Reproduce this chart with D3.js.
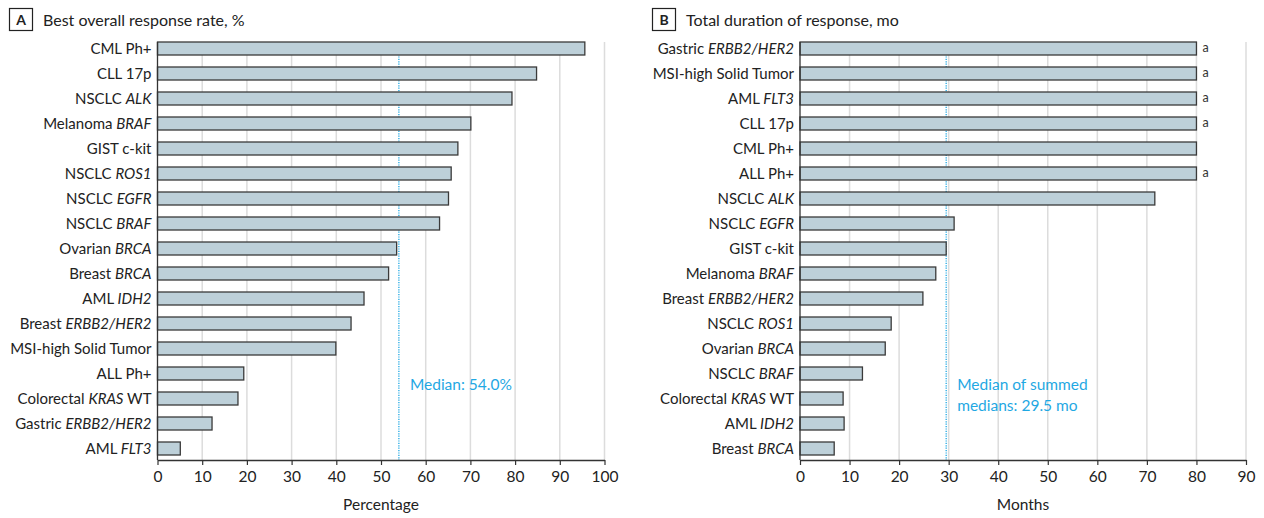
<!DOCTYPE html>
<html>
<head>
<meta charset="utf-8">
<script src="https://cdn.jsdelivr.net/npm/d3@7"></script>
<style>
  body { margin: 0; background: #fff; }
  svg { display: block; font-family: Lato, "Noto Sans", sans-serif; }
</style>
</head>
<body>
<svg id="chart" width="1264" height="518"></svg>
<script>
// gene names in *...* are set in italics
const categoriesA = [
  "CML Ph+", "CLL 17p", "NSCLC *ALK*", "Melanoma *BRAF*", "GIST c-kit",
  "NSCLC *ROS1*", "NSCLC *EGFR*", "NSCLC *BRAF*", "Ovarian *BRCA*", "Breast *BRCA*",
  "AML *IDH2*", "Breast *ERBB2/HER2*", "MSI-high Solid Tumor", "ALL Ph+",
  "Colorectal *KRAS* WT", "Gastric *ERBB2/HER2*", "AML *FLT3*"
];
const responseRate = [95.6, 84.8, 79.3, 70.1, 67.2, 65.7, 65.1, 63.1, 53.5, 51.7, 46.2, 43.3, 39.9, 19.3, 18.0, 12.2, 5.1];
const medianA = 54.0;
const ticksA = [0, 10, 20, 30, 40, 50, 60, 70, 80, 90, 100];

const categoriesB = [
  "Gastric *ERBB2/HER2*", "MSI-high Solid Tumor", "AML *FLT3*", "CLL 17p", "CML Ph+",
  "ALL Ph+", "NSCLC *ALK*", "NSCLC *EGFR*", "GIST c-kit", "Melanoma *BRAF*",
  "Breast *ERBB2/HER2*", "NSCLC *ROS1*", "Ovarian *BRCA*", "NSCLC *BRAF*",
  "Colorectal *KRAS* WT", "AML *IDH2*", "Breast *BRCA*"
];
const durationMonths = [80, 80, 80, 80, 80, 80, 71.6, 31.1, 29.5, 27.4, 24.8, 18.4, 17.2, 12.6, 8.7, 8.9, 6.9];
const footnoteB = ["a", "a", "a", "a", "", "a", "", "", "", "", "", "", "", "", "", "", ""];
const medianB = 29.5;
const ticksB = [0, 10, 20, 30, 40, 50, 60, 70, 80, 90];

const svg = d3.select("#chart");
const blue = "#1fa8e3";

function addLabel(sel, label) {
  // split on *...* into plain and italic pieces
  const parts = label.split("*");
  parts.forEach((p, i) => {
    if (p === "") return;
    sel.append("tspan")
       .attr("font-style", i % 2 === 1 ? "italic" : "normal")
       .text(p);
  });
}

function drawPanel(opt) {
  const g = svg.append("g");

  const x = d3.scaleLinear().domain(opt.domain).range([opt.x0, opt.x1]);
  const y = d3.scaleBand().domain(opt.cats).range([36, 461])
              .paddingInner(0.48).paddingOuter(0.24);
  const axisY = 460;
  const gridTop = y(opt.cats[0]);

  // panel letter + title
  g.append("rect")
   .attr("x", opt.boxX + 0.5).attr("y", 8.5)
   .attr("width", 23).attr("height", 22)
   .attr("fill", "none").attr("stroke", "#222").attr("stroke-width", 1.2);
  g.append("text")
   .attr("x", opt.boxX + 12).attr("y", 25)
   .attr("text-anchor", "middle")
   .attr("font-size", 14).attr("font-weight", "bold").attr("fill", "#222")
   .text(opt.letter);
  g.append("text")
   .attr("x", opt.boxX + 34).attr("y", 26)
   .attr("font-size", 16).attr("fill", "#222")
   .text(opt.title);

  // gridlines
  g.selectAll(".grid")
   .data(opt.ticks.filter(d => d > 0))
   .enter().append("line")
   .attr("x1", d => x(d)).attr("x2", d => x(d))
   .attr("y1", gridTop).attr("y2", axisY)
   .attr("stroke", "#dcdcdc").attr("stroke-width", 1.5);

  // median line
  g.append("line")
   .attr("x1", x(opt.median)).attr("x2", x(opt.median))
   .attr("y1", gridTop).attr("y2", axisY)
   .attr("stroke", blue).attr("stroke-width", 1.3)
   .attr("stroke-dasharray", "1.2,1.2");

  // bars
  g.selectAll(".bar")
   .data(opt.values)
   .enter().append("rect")
   .attr("x", x(0))
   .attr("y", (d, i) => y(opt.cats[i]))
   .attr("width", d => x(d) - x(0))
   .attr("height", y.bandwidth())
   .attr("fill", "#bdd0d9")
   .attr("stroke", "#3a3a3a").attr("stroke-width", 1.3);

  // category labels
  g.selectAll(".cat")
   .data(opt.cats)
   .enter().append("text")
   .attr("x", x(0) - 6)
   .attr("y", d => y(d) + y.bandwidth() / 2)
   .attr("dy", "0.36em")
   .attr("text-anchor", "end")
   .attr("font-size", 15).attr("fill", "#222")
   .each(function (d) { addLabel(d3.select(this), d); });

  // footnote marks
  if (opt.notes) {
    g.selectAll(".note")
     .data(opt.notes)
     .enter().append("text")
     .attr("x", (d, i) => x(opt.values[i]) + 6)
     .attr("y", (d, i) => y(opt.cats[i]) + y.bandwidth() / 2)
     .attr("dy", "0.3em")
     .attr("font-size", 12.5).attr("fill", "#333")
     .text(d => d);
  }

  // y axis line
  g.append("line")
   .attr("x1", x(0)).attr("x2", x(0))
   .attr("y1", gridTop).attr("y2", axisY)
   .attr("stroke", "#333").attr("stroke-width", 1.3);

  // x axis
  const ax = g.append("g")
   .attr("transform", `translate(0,${axisY})`)
   .call(d3.axisBottom(x).tickValues(opt.ticks).tickSize(5).tickPadding(6).tickSizeOuter(0));
  ax.select(".domain").attr("stroke", "#333").attr("stroke-width", 1.3);
  ax.selectAll(".tick line").attr("stroke", "#333").attr("stroke-width", 1.2);
  ax.selectAll(".tick text")
    .attr("font-family", "Lato, 'Noto Sans', sans-serif")
    .attr("font-size", 15.5).attr("fill", "#222");

  g.append("text")
   .attr("x", (opt.x0 + opt.x1) / 2).attr("y", 510)
   .attr("text-anchor", "middle")
   .attr("font-size", 15.5).attr("fill", "#222")
   .text(opt.axisTitle);

  // median annotation
  const mt = g.append("text")
   .attr("x", x(opt.median) + 11).attr("y", 390)
   .attr("font-size", 15.5).attr("fill", blue);
  opt.medianText.forEach((t, i) => {
    mt.append("tspan")
      .attr("x", x(opt.median) + 11)
      .attr("dy", i === 0 ? 0 : 21)
      .text(t);
  });
}

drawPanel({
  letter: "A", title: "Best overall response rate, %", boxX: 9,
  cats: categoriesA, values: responseRate, domain: [0, 100], ticks: ticksA,
  x0: 157.5, x1: 604.5, median: medianA,
  medianText: ["Median: 54.0%"], axisTitle: "Percentage"
});

drawPanel({
  letter: "B", title: "Total duration of response, mo", boxX: 652,
  cats: categoriesB, values: durationMonths, notes: footnoteB,
  domain: [0, 90], ticks: ticksB,
  x0: 800, x1: 1246, median: medianB,
  medianText: ["Median of summed", "medians: 29.5 mo"], axisTitle: "Months"
});
</script>
</body>
</html>
